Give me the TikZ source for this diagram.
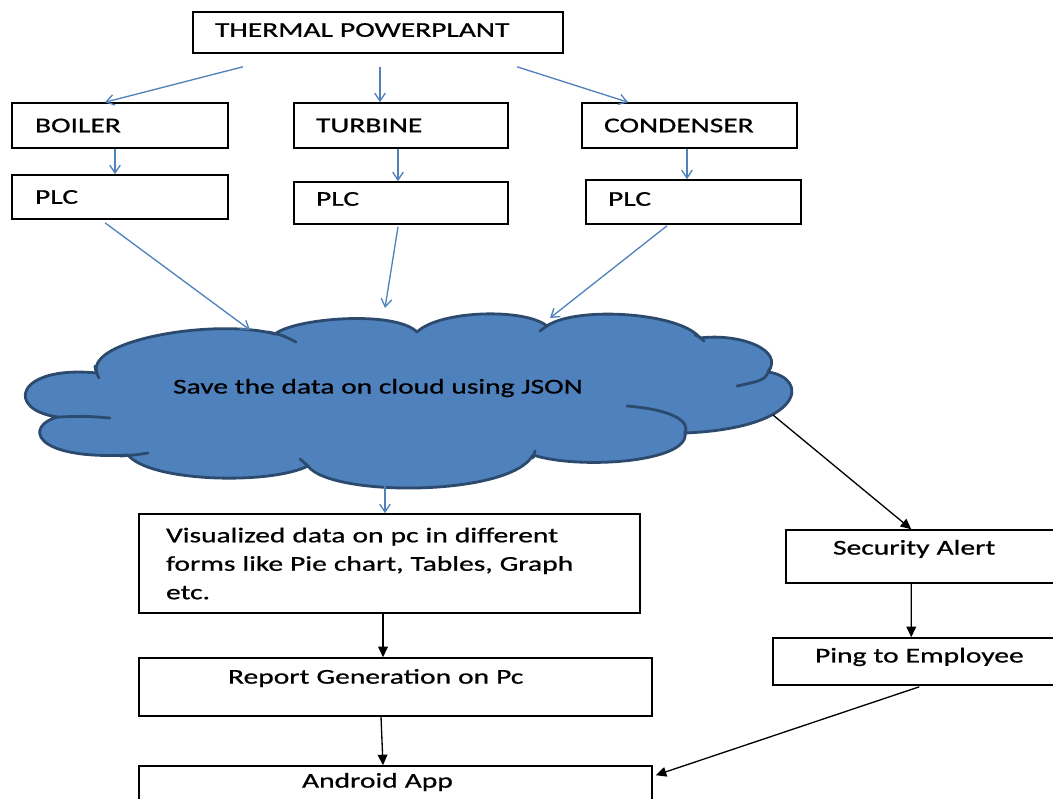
\documentclass[tikz,border=0pt]{standalone}
\usepackage{fontspec}
\setmainfont[FakeStretch=1.4,FakeBold=0.8]{Carlito}
\usetikzlibrary{arrows.meta,calc}
\definecolor{offblue}{HTML}{4F81BD}
\definecolor{cloudedge}{HTML}{2C4A6E}
\definecolor{txt}{HTML}{000000}
\begin{document}
\begin{tikzpicture}[x=0.02cm,y=-0.02cm,
  box/.style={draw=black,line width=0.9pt,rectangle,align=left,text=txt,
    font=\fontsize{12}{16.2}\selectfont,inner ysep=0pt},
  barrow/.style={draw=offblue,line width=0.75pt,-{Straight Barb[length=4.5pt,width=6pt]}},
  karrow/.style={draw=black,line width=0.75pt,-{Triangle[length=6pt,width=5.5pt]}},
  cloudline/.style={draw=cloudedge,line width=1.6pt,line cap=round}]
\useasboundingbox (0,0) rectangle (1053,798);

% boxes
\node[box,minimum width=7.4cm,minimum height=0.82cm,inner xsep=0.44cm,text width=6.52cm] (tp) at (378,32.5) {\raisebox{1.4pt}[\height][\depth]{THERMAL POWERPLANT}};
\node[box,minimum width=4.32cm,minimum height=0.9cm,inner xsep=0.46cm,text width=3.4cm] (boiler) at (120,125.5) {BOILER};
\node[box,minimum width=4.28cm,minimum height=0.9cm,inner xsep=0.44cm,text width=3.4cm] (turbine) at (401,125.5) {TURBINE};
\node[box,minimum width=4.30cm,minimum height=0.9cm,inner xsep=0.44cm,text width=3.42cm] (condenser) at (689.5,125.5) {CONDENSER};
\node[box,minimum width=4.32cm,minimum height=0.88cm,inner xsep=0.46cm,text width=3.4cm] (plc1) at (120,197) {PLC};
\node[box,minimum width=4.28cm,minimum height=0.84cm,inner xsep=0.44cm,text width=3.4cm] (plc2) at (401,203) {\raisebox{2.3pt}[\height][\depth]{PLC}};
\node[box,minimum width=4.30cm,minimum height=0.88cm,inner xsep=0.44cm,text width=3.42cm] (plc3) at (693.5,202) {\raisebox{1.7pt}[\height][\depth]{PLC}};

% cloud
\path[fill=offblue] (97,373) .. controls (85,340) and (215,318) .. (275,334)
 .. controls (295,318) and (395,310) .. (417,332)
 .. controls (440,310) and (525,308) .. (547,326)
 .. controls (575,306) and (680,312) .. (700,338)
 .. controls (740,333) and (785,350) .. (768,372)
 .. controls (810,378) and (805,428) .. (685,433)
 .. controls (690,462) and (580,470) .. (533,455)
 .. controls (510,497) and (330,497) .. (308,466)
 .. controls (270,485) and (150,482) .. (128,455)
 .. controls (30,460) and (25,425) .. (58,417)
 .. controls (5,410) and (15,365) .. (97,373) -- cycle;
\draw[cloudline,line join=round] (97,373) .. controls (85,340) and (215,318) .. (275,334)
 .. controls (295,318) and (395,310) .. (417,332)
 .. controls (440,310) and (525,308) .. (547,326)
 .. controls (575,306) and (680,312) .. (700,338)
 .. controls (740,333) and (785,350) .. (768,372)
 .. controls (810,378) and (805,428) .. (685,433)
 .. controls (690,462) and (580,470) .. (533,455)
 .. controls (510,497) and (330,497) .. (308,466)
 .. controls (270,485) and (150,482) .. (128,455)
 .. controls (30,460) and (25,425) .. (58,417)
 .. controls (5,410) and (15,365) .. (97,373) -- cycle;
% inner curls
\draw[cloudline] (268,332) .. controls (282,335) .. (296,342);
\draw[cloudline] (540,331) .. controls (544,328) .. (550,324);
\draw[cloudline] (695,335) .. controls (700,337) .. (704,341);
\draw[cloudline] (770,368) .. controls (765,380) .. (737,386);
\draw[cloudline] (627,406) .. controls (675,410) and (690,422) .. (685,433);
\draw[cloudline] (533,458) -- (535,451);
\draw[cloudline] (308,466) .. controls (304,462) .. (300,459);
\draw[cloudline] (120,456) .. controls (135,455) .. (148,453);
\draw[cloudline] (58,417) .. controls (85,416) .. (110,418);
\draw[cloudline] (95,366) .. controls (96,372) .. (99,378);
\node[text=txt,font=\fontsize{12}{14}\selectfont] (cloudtext) at (378,388) {Save the data on cloud using JSON};

\coordinate (c1) at (250,330);
\coordinate (c2) at (385,308);
\coordinate (c3) at (550,318);
\coordinate (cb) at (385,485);
\coordinate (cr) at (773,415);

% lower boxes
\node[box,minimum width=10.02cm,minimum height=1.98cm,inner xsep=0.54cm,text width=8.94cm] (vis) at (389.5,563.5) {Visualized data on pc in different\\forms like Pie chart, Tables, Graph\\etc.};
\node[box,minimum width=10.26cm,minimum height=1.16cm,inner xsep=1.78cm,text width=6.7cm] (rep) at (395.5,687) {\raisebox{5.1pt}[\height][\depth]{Report Generation on Pc}};
\node[box,minimum width=10.26cm,minimum height=1.28cm,inner xsep=3.26cm,text width=3.74cm] (android) at (395.5,798) {\raisebox{9.1pt}[\height][\depth]{Android App}};
\node[box,minimum width=5.88cm,minimum height=1.06cm,inner xsep=0.94cm,text width=4.0cm] (sec) at (933,556.5) {\raisebox{4.3pt}[\height][\depth]{Security Alert}};
\node[box,minimum width=6.14cm,minimum height=0.94cm,inner xsep=0.84cm,text width=4.46cm] (ping) at (926.5,661.5) {\raisebox{2.6pt}[\height][\depth]{Ping to Employee}};

% blue arrows
\draw[barrow] ($(tp.south)+(-135,13)$) -- ($(boiler.north)+(-15,0)$);
\draw[barrow] ($(tp.south)+(2,13)$) -- ($(turbine.north)+(-21,0)$);
\draw[barrow] ($(tp.south)+(139,13)$) -- ($(condenser.north)+(-61.5,0)$);
\draw[barrow] ($(boiler.south)+(-5,0)$) -- ($(plc1.north)+(-5,0)$);
\draw[barrow] ($(turbine.south)+(-3,0)$) -- ($(plc2.north)+(-3,0)$);
\draw[barrow] ($(condenser.south)+(-2.5,0)$) -- ($(plc3.north)+(-6.5,0)$);
\draw[barrow] ($(plc1.south)+(-15,3)$) -- (c1);
\draw[barrow] ($(plc2.south)+(-3,2)$) -- (c2);
\draw[barrow] ($(plc3.south)+(-26.5,1)$) -- (c3);
\draw[barrow] (cb) -- ($(vis.north)+(-4.5,0)$);

% black arrows
\draw[karrow] (cr) -- ($(sec.north west)+(126,0)$);
\draw[karrow] ($(sec.south west)+(126,0)$) -- ($(ping.north west)+(139,0)$);
\draw[karrow] ($(vis.south)+(-6.5,0)$) -- ($(rep.north)+(-12.5,0)$);
\draw[karrow] ($(rep.south)+(-14.5,0)$) -- ($(android.north)+(-12.5,0)$);
\draw[karrow] ($(ping.south west)+(147,1)$) -- ($(android.north east)+(3,10)$);
\end{tikzpicture}
\end{document}
